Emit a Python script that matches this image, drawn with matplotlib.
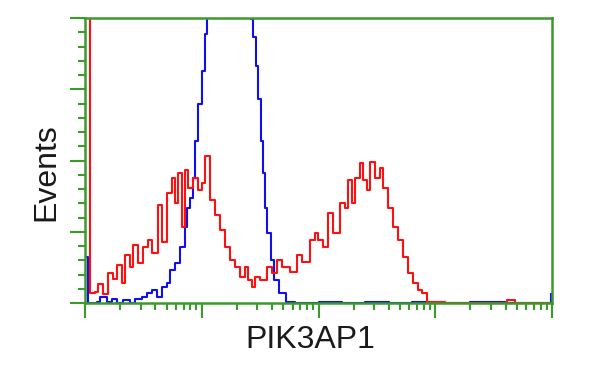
import numpy as np
import matplotlib
matplotlib.use('Agg')
import matplotlib.pyplot as plt
from matplotlib.ticker import MultipleLocator, LogLocator, NullFormatter

# 荧光强度(log10) 与事件数
red_log = [0.017, 0.043, 0.086, 0.111, 0.154, 0.197, 0.240, 0.274, 0.317, 0.343,
           0.385, 0.411, 0.454, 0.497, 0.540, 0.574, 0.625, 0.660, 0.702, 0.745,
           0.771, 0.797, 0.831, 0.857, 0.882, 0.925, 0.968, 0.998, 1.028, 1.071,
           1.113, 1.156, 1.199, 1.242, 1.285, 1.328, 1.370, 1.396, 1.430, 1.456,
           1.499, 1.559, 1.602, 1.645, 1.687, 1.730, 1.756, 1.816, 1.859, 1.902,
           1.927, 1.970, 1.996, 2.039, 2.081, 2.124, 2.184, 2.227, 2.253, 2.287,
           2.313, 2.355, 2.381, 2.415, 2.441, 2.484, 2.527, 2.552, 2.595, 2.638,
           2.681, 2.724, 2.767, 2.809, 2.852, 2.887, 2.929, 2.998, 3.084, 3.212,
           3.383, 3.555, 3.615, 3.683, 3.983]
red_counts = [220, 7, 8, 13, 6, 21, 17, 27, 14, 34,
              25, 41, 28, 39, 44, 35, 69, 43, 77, 88,
              70, 91, 53, 93, 81, 88, 79, 84, 103, 72,
              62, 51, 39, 30, 25, 18, 25, 16, 11, 18,
              16, 25, 21, 30, 25, 25, 22, 34, 29, 29,
              44, 49, 44, 39, 63, 49, 70, 67, 86, 70,
              88, 98, 86, 79, 99, 88, 95, 81, 67, 53,
              44, 32, 21, 14, 9, 7, 1, 1, 0, 0,
              0, 0, 2, 0, 0]

blue_log = [0.009, 0.025, 0.103, 0.129, 0.189, 0.231, 0.274, 0.326, 0.385, 0.428, 0.488,
            0.531, 0.574, 0.617, 0.660, 0.702, 0.728, 0.771, 0.814, 0.857, 0.874,
            0.899, 0.925, 0.942, 0.968, 1.002, 1.028, 1.045, 1.100, 1.200, 1.300,
            1.380, 1.422, 1.439, 1.465, 1.482, 1.507, 1.524, 1.542, 1.559, 1.593,
            1.619, 1.662, 1.722, 1.800, 2.000, 2.200, 2.400, 2.600, 2.800, 3.000,
            3.300, 3.600, 3.900, 3.990]
blue_counts = [32, 0, 1, 4, 1, 3, 0, 2, 0, 3, 4,
               7, 9, 4, 11, 14, 23, 28, 39, 53, 67,
               74, 88, 114, 140, 163, 189, 205, 240, 270, 265,
               230, 199, 187, 166, 143, 114, 91, 67, 49, 30,
               16, 7, 1, 0, 1, 0, 1, 0, 1, 0,
               1, 0, 0, 6]

green = '#3a9a2a'

fig = plt.figure(figsize=(6, 3.75), dpi=100)
ax = fig.add_axes([0.1417, 0.192, 0.7783, 0.76])

ax.step(10 ** np.array(blue_log), blue_counts, where='post', color='#1010ee', lw=1.5)
ax.step(10 ** np.array(red_log), red_counts, where='post', color='#ff1010', lw=1.5)

ax.set_xscale('log')
ax.set_xlim(1, 10 ** 4)
ax.set_ylim(0, 200)
ax.yaxis.set_major_locator(MultipleLocator(50))
ax.yaxis.set_minor_locator(MultipleLocator(10))
ax.xaxis.set_major_locator(LogLocator(base=10, numticks=10))
ax.xaxis.set_minor_locator(LogLocator(base=10, subs=np.arange(2, 10), numticks=20))
ax.xaxis.set_major_formatter(NullFormatter())
ax.xaxis.set_minor_formatter(NullFormatter())
ax.yaxis.set_major_formatter(NullFormatter())

for s in ax.spines.values():
    s.set_color(green)
    s.set_linewidth(1.8)
ax.tick_params(which='major', length=11, width=1.5, color=green)
ax.tick_params(which='minor', length=5, width=1.5, color=green)

fig.text(0.078, 0.54, 'Events', rotation=90, ha='center', va='center',
         fontsize=23, family='Liberation Sans', color='#1a1a1a')
fig.text(0.518, 0.093, 'PIK3AP1', ha='center', va='center',
         fontsize=23, family='Liberation Sans', color='#1a1a1a')

plt.savefig('out.png')
